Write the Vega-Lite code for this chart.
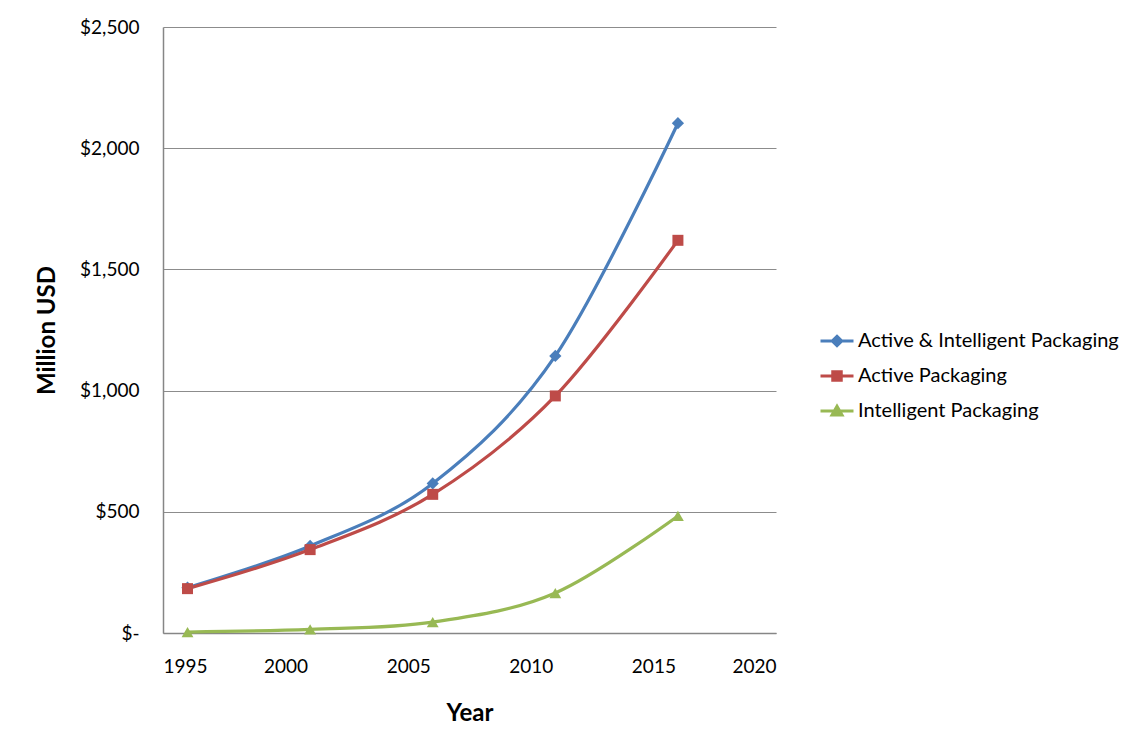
{
  "$schema": "https://vega.github.io/schema/vega-lite/v6.json",
  "width": 613,
  "height": 606,
  "autosize": {"type": "none"},
  "padding": {"left": 163, "top": 27, "right": 353, "bottom": 105},
  "background": "white",
  "config": {
    "font": "Lato",
    "view": {"stroke": null},
    "axis": {
      "labelFont": "Lato",
      "labelFontSize": 19,
      "labelColor": "#000000",
      "titleFont": "Lato",
      "titleFontWeight": "bold",
      "titleFontSize": 24,
      "titleColor": "#000000",
      "domainColor": "#868686",
      "domainWidth": 1.5,
      "ticks": false,
      "tickSize": 0
    }
  },
  "data": {
    "values": [
      {"year": 1996, "series": "Active & Intelligent Packaging", "value": 187},
      {"year": 2001, "series": "Active & Intelligent Packaging", "value": 359},
      {"year": 2006, "series": "Active & Intelligent Packaging", "value": 617},
      {"year": 2011, "series": "Active & Intelligent Packaging", "value": 1143},
      {"year": 2016, "series": "Active & Intelligent Packaging", "value": 2103},
      {"year": 1996, "series": "Active Packaging", "value": 183},
      {"year": 2001, "series": "Active Packaging", "value": 344},
      {"year": 2006, "series": "Active Packaging", "value": 572},
      {"year": 2011, "series": "Active Packaging", "value": 978},
      {"year": 2016, "series": "Active Packaging", "value": 1620},
      {"year": 1996, "series": "Intelligent Packaging", "value": 4},
      {"year": 2001, "series": "Intelligent Packaging", "value": 15},
      {"year": 2006, "series": "Intelligent Packaging", "value": 45},
      {"year": 2011, "series": "Intelligent Packaging", "value": 165},
      {"year": 2016, "series": "Intelligent Packaging", "value": 483}
    ]
  },
  "encoding": {
    "x": {
      "field": "year",
      "type": "quantitative",
      "title": "Year",
      "scale": {"domain": [1995, 2020], "nice": false, "zero": false},
      "axis": {
        "values": [1995, 2000, 2005, 2010, 2015, 2020],
        "format": "d",
        "grid": false,
        "labelBaseline": "middle",
        "labelPadding": 33,
        "titleBaseline": "alphabetic",
        "titleY": 87
      }
    },
    "y": {
      "field": "value",
      "type": "quantitative",
      "title": "Million USD",
      "scale": {"domain": [0, 2500], "nice": false},
      "axis": {
        "values": [0, 500, 1000, 1500, 2000, 2500],
        "labelExpr": "datum.value === 0 ? '$-\u00a0\u00a0' : '$' + format(datum.value, ',')",
        "labelPadding": 24,
        "grid": true,
        "gridColor": "#8c8c8c",
        "gridWidth": 1,
        "titleAngle": -90,
        "titleBaseline": "alphabetic",
        "titleX": -109
      }
    },
    "color": {
      "field": "series",
      "type": "nominal",
      "sort": ["Active & Intelligent Packaging", "Active Packaging", "Intelligent Packaging"],
      "scale": {
        "domain": ["Active & Intelligent Packaging", "Active Packaging", "Intelligent Packaging"],
        "range": ["#4A7EBB", "#BE4B48", "#98B954"]
      },
      "legend": {
        "title": null,
        "orient": "none",
        "legendX": 664,
        "legendY": 304,
        "padding": 0,
        "symbolSize": 100,
        "symbolType": "circle",
        "symbolStrokeWidth": 3,
        "rowPadding": 13,
        "labelFont": "Lato",
        "labelFontSize": 20,
        "labelColor": "#000000",
        "labelOffset": 11,
        "labelLimit": 400,
        "encode": {
          "symbols": {
            "update": {
              "shape": {"signal": "datum.value === 'Active Packaging' ? 'M-3.3,0H3.3M-0.85,-0.85H0.85V0.85H-0.85Z' : datum.value === 'Intelligent Packaging' ? 'M-3.3,0H3.3M0,-0.95L1,0.8H-1Z' : 'M-3.3,0H3.3M0,-0.95L0.95,0L0,0.95L-0.95,0Z'"},
              "fill": {"scale": "color", "field": "value"},
              "stroke": {"scale": "color", "field": "value"},
              "strokeWidth": {"value": 3},
              "opacity": {"value": 1},
              "fillOpacity": {"value": 1}
            }
          }
        }
      }
    }
  },
  "layer": [
    {
      "mark": {"type": "line", "interpolate": "cardinal", "strokeWidth": 3.2}
    },
    {
      "transform": [{"filter": "datum.series === 'Active & Intelligent Packaging'"}],
      "mark": {"type": "point", "shape": "diamond", "filled": true, "opacity": 1, "size": 150}
    },
    {
      "transform": [{"filter": "datum.series === 'Active Packaging'"}],
      "mark": {"type": "point", "shape": "square", "filled": true, "opacity": 1, "size": 121}
    },
    {
      "transform": [{"filter": "datum.series === 'Intelligent Packaging'"}],
      "mark": {"type": "point", "shape": "triangle-up", "filled": true, "opacity": 1, "size": 140}
    }
  ]
}
